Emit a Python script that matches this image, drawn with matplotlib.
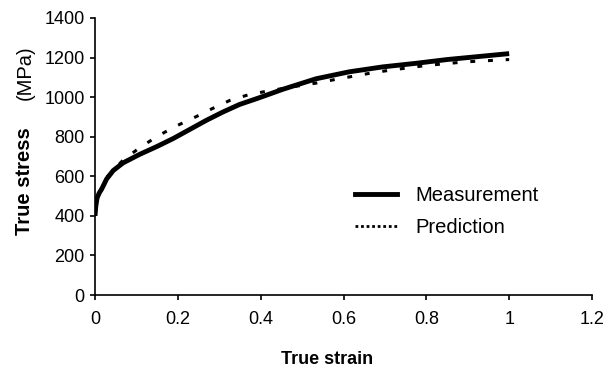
import matplotlib
matplotlib.use("Agg")
import matplotlib.pyplot as plt
from matplotlib.lines import Line2D

plt.rcParams['font.family'] = ['Liberation Sans', 'DejaVu Sans']

meas_x = [0, 0.002, 0.005, 0.01, 0.016, 0.028, 0.044, 0.068, 0.108, 0.149, 0.189,
          0.229, 0.269, 0.309, 0.349, 0.394, 0.454, 0.534, 0.614, 0.695, 0.775,
          0.85, 0.925, 1.0]
meas_y = [400, 450, 490, 515, 535, 586, 629, 668, 711, 750, 791,
          837, 883, 925, 963, 995, 1040, 1093, 1128, 1153, 1171,
          1190, 1205, 1220]

pred_x = [0, 0.005, 0.012, 0.024, 0.066, 0.108, 0.153, 0.195, 0.239, 0.283, 0.325,
          0.372, 0.415, 0.46, 0.5, 0.546, 0.586, 0.63, 0.675, 0.719, 0.763, 0.803,
          0.847, 0.892, 0.936, 0.98, 1.0]
pred_y = [430, 480, 520, 586, 678, 745, 805, 853, 896, 942, 983,
          1013, 1030, 1046, 1060, 1075, 1092, 1108, 1125, 1138, 1150, 1161,
          1169, 1178, 1183, 1188, 1190]

x_ticks = [0, 0.2, 0.4, 0.6, 0.8, 1.0, 1.2]
x_ticklabels = ["0", "0.2", "0.4", "0.6", "0.8", "1", "1.2"]
y_ticks = [0, 200, 400, 600, 800, 1000, 1200, 1400]

fig = plt.figure(figsize=(6.06, 3.70), dpi=100)
ax = fig.add_axes([95/606, 1 - 295/370, (592 - 95)/606, (295 - 18)/370])

ax.plot(pred_x, pred_y, color='black', lw=2.2, linestyle=(0, (1.6, 4.2)))
ax.plot(meas_x, meas_y, color='black', lw=3.5, solid_capstyle='butt',
        solid_joinstyle='round')

ax.set_xlim(0, 1.2)
ax.set_ylim(0, 1400)
ax.set_xticks(x_ticks)
ax.set_xticklabels(x_ticklabels)
ax.set_yticks(y_ticks)
for s in ['top', 'right']:
    ax.spines[s].set_visible(False)
for s in ['left', 'bottom']:
    ax.spines[s].set_linewidth(1.2)
ax.tick_params(axis='both', direction='out', length=3.5, width=1.2, labelsize=13)
ax.tick_params(axis='x', pad=8)
ax.tick_params(axis='y', pad=4)

handles = [Line2D([], [], color='black', lw=3.5),
           Line2D([], [], color='black', lw=2, linestyle=(0, (1, 1)))]
fig.legend(handles, ["Measurement", "Prediction"], loc='center left',
           bbox_to_anchor=(355/606, 1 - 211.5/370), frameon=False, fontsize=14.5,
           handlelength=2.1, handletextpad=0.9, labelspacing=0.65,
           borderpad=0, borderaxespad=0)

fig.text(327/606, 1 - 360/370, "True strain", fontsize=13, fontweight='bold',
         ha='center', va='center')
fig.text(25/606, 1 - 181/370, "True stress", fontsize=14.5, fontweight='bold',
         ha='center', va='center', rotation=90)
fig.text(25/606, 1 - 73/370, "(MPa)", fontsize=14.5,
         ha='center', va='center', rotation=90)

fig.savefig("out.png", dpi=100)
